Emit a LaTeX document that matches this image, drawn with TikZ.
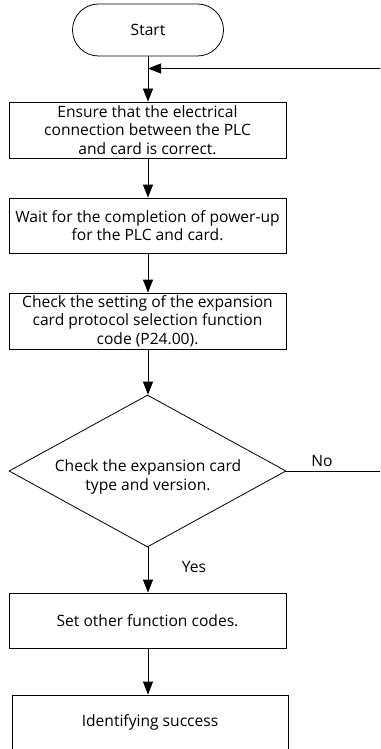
\documentclass[tikz,border=0pt]{standalone}
\usepackage{fontspec}
\setmainfont{Open Sans}
\usetikzlibrary{shapes.geometric,arrows.meta}
\begin{document}
\begin{tikzpicture}[x=1pt,y=-1pt,
  font=\fontsize{15.6}{18.5}\selectfont,
  line width=0.8pt,
  box/.style={draw, minimum width=277pt, minimum height=55pt, align=center, inner sep=0pt},
  flow/.style={-{Triangle[width=10pt,length=13pt]}}]
\clip (0,0) rectangle (380,749);
\node[draw, rounded corners=26pt, minimum width=151pt, minimum height=52pt, inner sep=0pt] (start) at (148,30) {Start};
\node[box, minimum height=56pt] (b1) at (147.5,130) {Ensure that the electrical\\connection between the PLC\\and card is correct.};
\node[box] (b2) at (147.5,225.5) {Wait for the completion of power-up\\for the PLC and card.};
\node[box, minimum height=56pt] (b3) at (147.5,321) {Check the setting of the expansion\\card protocol selection function\\code (P24.00).};
\node[draw, diamond, minimum width=277pt, minimum height=152pt, inner sep=0pt] (dec) at (147.5,471) {};
\node[align=center, inner sep=0pt] (dtext) at (148,477) {Check the expansion card\\type and version.};
\node[box] (b4) at (147.5,620.5) {Set other function codes.};
\node[box, minimum width=276pt] (b5) at (150,722.5) {Identifying success};
\coordinate (loopin) at (380,68.5);
\coordinate (loopj) at (148,68.5);
\coordinate (noend) at (380,471);
\draw[flow] (start.south -| loopj) -- (b1.north -| loopj);
\draw[flow] (loopin) -- (loopj);
\draw[flow] (b1.south -| loopj) -- (b2.north -| loopj);
\draw[flow] (b2.south -| loopj) -- (b3.north -| loopj);
\draw[flow] (b3.south -| loopj) -- (dec.north -| loopj);
\draw[flow] (dec.south -| loopj) -- (b4.north -| loopj);
\draw[flow] (b4.south -| loopj) -- (b5.north -| loopj);
\draw (dec.east) -- (noend);
\node[inner sep=0pt] (nolab) at (322,461) {No};
\node[inner sep=0pt] (yeslab) at (194,567) {Yes};
\end{tikzpicture}
\end{document}
